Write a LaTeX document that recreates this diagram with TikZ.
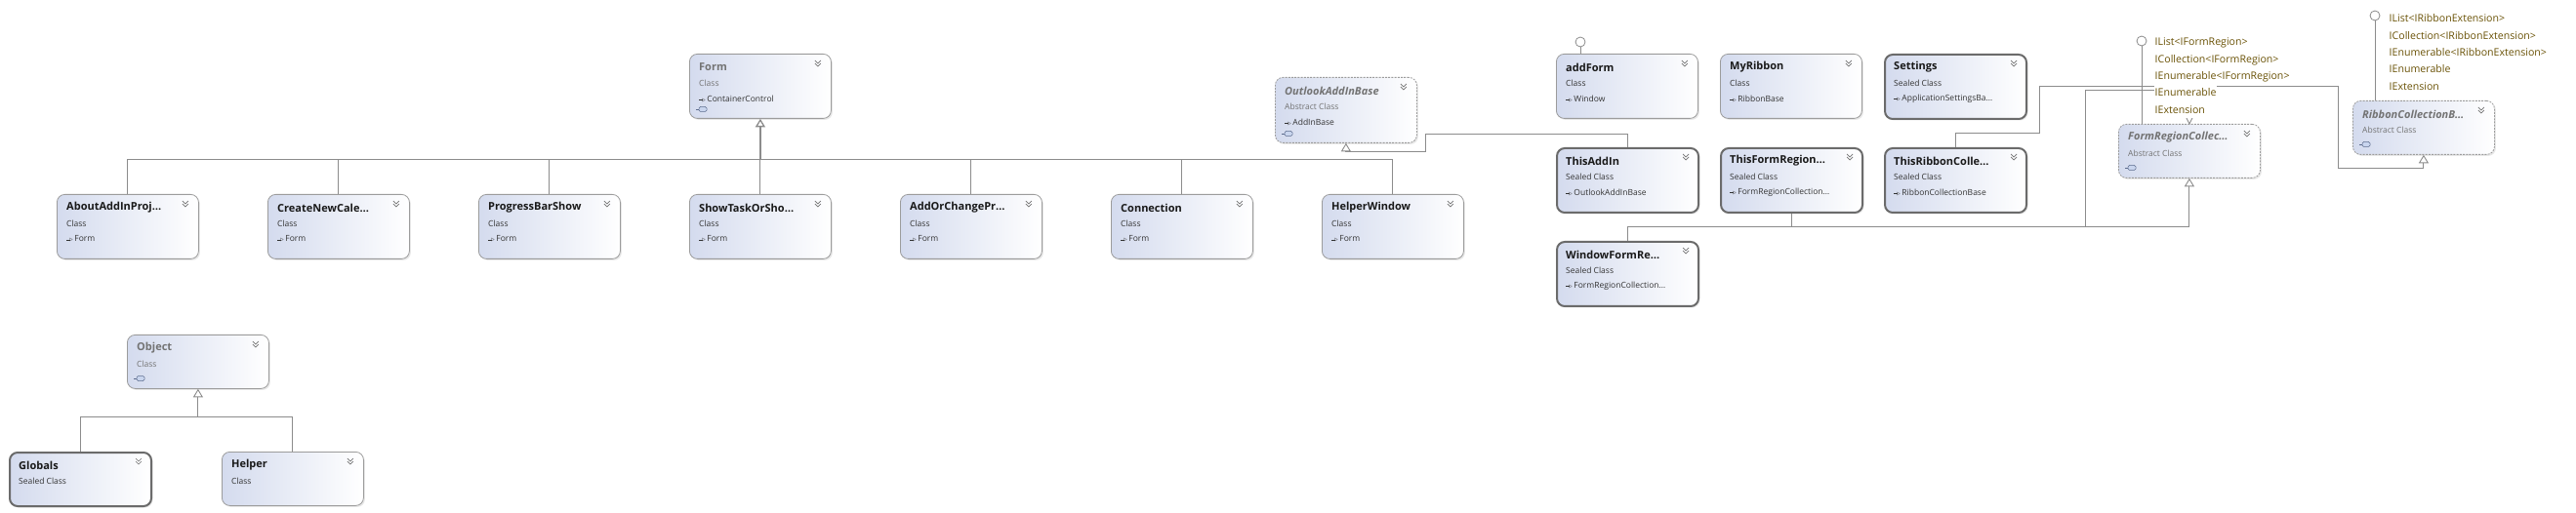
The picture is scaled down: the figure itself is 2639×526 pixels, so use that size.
\documentclass[tikz,border=0pt]{standalone}
\usepackage{fontspec}
\setmainfont{Open Sans}
\usepackage{tikz}
\usetikzlibrary{math,arrows.meta,shadows}
\definecolor{boxleft}{HTML}{D4DBEE}
\definecolor{boxline}{HTML}{9C9C9C}
\definecolor{sealedline}{HTML}{6B6B6B}
\definecolor{linkcolor}{HTML}{8C8C8C}
\definecolor{fadetext}{HTML}{737373}
\definecolor{ifacetext}{HTML}{6A5206}
\definecolor{iconfill}{HTML}{C9D5EE}
\definecolor{icondark}{HTML}{5B6B8C}

\tikzset{
    classbox/.style={draw=boxline, line width=0.8pt, rounded corners=8pt,
        left color=boxleft, right color=white, anchor=north west, inner sep=0pt,
        minimum width=145pt, minimum height=66pt,
        drop shadow={shadow xshift=1.5pt, shadow yshift=-1.5pt, fill=black!18}},
    short/.style={minimum height=55pt},
    sealed/.style={draw=sealedline, line width=2pt},
    abstract/.style={dash pattern=on 2pt off 1.2pt},
    title/.style={anchor=west, inner sep=0pt, text=black!90, font=\fontsize{11}{13}\selectfont\bfseries},
    kind/.style={anchor=west, inner sep=0pt, text=black!80, font=\fontsize{8.5}{10}\selectfont},
    chevron/.style={draw=black!55, line width=0.7pt},
    membersicon/.style={draw=icondark, fill=iconfill, line width=0.5pt, rounded corners=1.5pt,
        minimum width=8pt, minimum height=5pt, inner sep=0pt},
    link/.style={draw=linkcolor, line width=0.9pt},
    inherit/.style={link, -{Triangle[open, length=8.5pt, width=10pt, fill=white]}},
    lolli/.style={circle, draw=linkcolor, fill=white, line width=0.8pt, minimum size=10pt, inner sep=0pt},
    iface/.style={anchor=base west, fill=white, inner sep=0.5pt, text height=12pt, text depth=4pt,
        text=ifacetext, font=\fontsize{10.6}{12}\selectfont},
}

\newcommand{\faded}[1]{\textcolor{fadetext}{#1}}
\newcommand{\baseto}{\rule[0.32ex]{0.5em}{0.5pt}\kern-0.15em$\scriptstyle\triangleright$}
% #1 box style, #2 name, #3 top-left corner, #4 class name, #5 kind, #6 base class
\newcommand{\classbox}[6][]{%
    \node[classbox, #1] (#2) at #3 {};
    \node[title] (#2-name) at ([shift={(10,14)}]#2.north west) {#4};
    \node[kind] (#2-kind) at ([shift={(10,30)}]#2.north west) {#5};
    \if\relax\detokenize{#6}\relax\else
        \node[kind] (#2-base) at ([shift={(10,46)}]#2.north west) {\baseto\,#6};
    \fi
    \draw[chevron] ([shift={(-17,7)}]#2.north east) -- ++(3,3) -- ++(3,-3)
        ++(-6,3) -- ++(3,3) -- ++(3,-3);
}
% #1 box, #2 row
\newcommand{\members}[2]{%
    \node[membersicon] (#1-members) at ([shift={(14,#2)}]#1.north west) {};
    \draw[icondark, line width=0.6pt] (#1-members.west) -- ++(-3,0);
}

\begin{document}
\begin{tikzpicture}[x=1pt, y={(0pt,-1pt)}]
    \tikzmath{%
        \xrow=58; \xstep=216; \yrow=199; \ybus=163;
        \xcol=1594; \xcs=168; \ytop=55; \yrs=96;
    };
    \path[use as bounding box, fill=white] (0,0) rectangle (2639,526);

    % Form
    \classbox{form}{(706,55)}{\faded{Form}}{\faded{Class}}{ContainerControl}
    \members{form}{57}
    \coordinate (formbus) at (0,\ybus);
    \foreach \n/\t [count=\i from 0] in {about/AboutAddInProj\dots, createcal/CreateNewCale\dots,
            progress/ProgressBarShow, showtask/ShowTaskOrSho\dots, addchange/AddOrChangePr\dots,
            connection/Connection, helperwin/HelperWindow} {%
        \classbox{\n}{(\xrow+\i*\xstep,\yrow)}{\t}{Class}{Form}
        \draw[link] (\n.north) -- (\n.north |- formbus);
    }
    \draw[link] (about.north |- formbus) -- (helperwin.north |- formbus);
    \draw[inherit, line width=1.3pt] (form.south |- formbus) -- (form.south);

    % OutlookAddInBase
    \classbox[abstract, minimum height=67pt]{outlook}{(1306,79)}{\faded{\itshape OutlookAddInBase}}{\faded{Abstract Class}}{AddInBase}
    \members{outlook}{58}

    % add-in classes
    \classbox{addform}{(\xcol,\ytop)}{addForm}{Class}{Window}
    \classbox{myribbon}{(\xcol+\xcs,\ytop)}{MyRibbon}{Class}{RibbonBase}
    \classbox[sealed]{settings}{(\xcol+2*\xcs,\ytop)}{Settings}{Sealed Class}{ApplicationSettingsBa\dots}
    \classbox[sealed]{thisaddin}{(\xcol,\ytop+\yrs)}{ThisAddIn}{Sealed Class}{OutlookAddInBase}
    \classbox[sealed]{thisformreg}{(\xcol+\xcs,\ytop+\yrs)}{ThisFormRegion\dots}{Sealed Class}{FormRegionCollection\dots}
    \classbox[sealed]{thisribbon}{(\xcol+2*\xcs,\ytop+\yrs)}{ThisRibbonColle\dots}{Sealed Class}{RibbonCollectionBase}
    \classbox[sealed]{windowform}{(\xcol,\ytop+2*\yrs)}{WindowFormRe\dots}{Sealed Class}{FormRegionCollection\dots}
    \node[lolli] (addform-port) at (1619,43) {};
    \draw[link] (addform-port) -- (addform-port |- addform.north);

    % base collections
    \classbox[abstract, short]{frc}{(2170,127)}{\faded{\itshape FormRegionCollec\dots}}{\faded{Abstract Class}}{}
    \members{frc}{45}
    \classbox[abstract, short]{rcb}{(2410,103)}{\faded{\itshape RibbonCollectionB\dots}}{\faded{Abstract Class}}{}
    \members{rcb}{45}

    \draw[inherit] (thisaddin.north) |- (1460,137) |- (outlook.south |- 0,155) -- (outlook.south);
    \draw[inherit] (windowform.north) |- (frc.south |- 0,232) -- (frc.south);
    \draw[link] (thisformreg.south) -- (thisformreg.south |- 0,232);
    \draw[link] (2136,232) |- (2250,92);
    \draw[inherit] (thisribbon.north) |- (2089,136) |- (2395,88) |- (rcb.south |- 0,172) -- (rcb.south);

    \node[lolli] (frc-port) at (2194,42) {};
    \draw[link] (frc-port) -- (frc-port |- frc.north);
    \node[lolli] (rcb-port) at (2433,16) {};
    \draw[link] (rcb-port) -- (rcb-port |- rcb.north);
    \draw[link] ([shift={(-3,-6)}]frc.north) -- (frc.north) -- ([shift={(3,-6)}]frc.north);

    % interfaces
    \foreach \t [count=\i from 0] in {IList<IFormRegion>, ICollection<IFormRegion>,
            IEnumerable<IFormRegion>, IEnumerable, IExtension}
        \node[iface] (frc-if\i) at (2207,47+\i*17.3) {\t};
    \foreach \t [count=\i from 0] in {IList<IRibbonExtension>, ICollection<IRibbonExtension>,
            IEnumerable<IRibbonExtension>, IEnumerable, IExtension}
        \node[iface] (rcb-if\i) at (2447,23+\i*17.3) {\t};

    % Object
    \classbox[short]{object}{(130,343)}{\faded{Object}}{\faded{Class}}{}
    \members{object}{45}
    \classbox[short, sealed]{globals}{(9,463)}{Globals}{Sealed Class}{}
    \classbox[short]{helper}{(227,463)}{Helper}{Class}{}
    \draw[link] (globals.north) |- (helper.north |- 0,427) -- (helper.north);
    \draw[inherit] (object.south |- 0,427) -- (object.south);

\end{tikzpicture}
\end{document}
